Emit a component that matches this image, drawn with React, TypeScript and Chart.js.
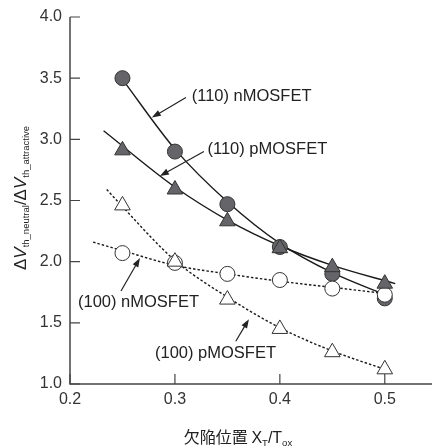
import { useEffect, useRef } from "react";
import { Chart, registerables } from "chart.js";

Chart.register(...registerables);

// ---- data ----
const xPositions = [0.25, 0.3, 0.35, 0.4, 0.45, 0.5];
const n110 = [3.5, 2.9, 2.47, 2.12, 1.9, 1.7];
const p110 = [2.91, 2.59, 2.33, 2.11, 1.955, 1.82];
const n100 = [2.07, 1.99, 1.9, 1.85, 1.78, 1.73];
const p100 = [2.46, 2.0, 1.69, 1.45, 1.26, 1.12];

const n110FitX = [0.25, 0.3, 0.35, 0.4, 0.45, 0.5];
const n110Fit = [3.49, 2.92, 2.49, 2.15, 1.91, 1.73];
const p110FitX = [0.232, 0.3, 0.35, 0.4, 0.45, 0.51];
const p110Fit = [3.07, 2.61, 2.34, 2.13, 1.97, 1.82];
const n100FitX = [0.222, 0.25, 0.3, 0.35, 0.4, 0.45, 0.5];
const n100Fit = [2.16, 2.09, 1.97, 1.9, 1.84, 1.79, 1.74];
const p100FitX = [0.235, 0.25, 0.3, 0.35, 0.4, 0.45, 0.5];
const p100Fit = [2.59, 2.45, 2.01, 1.71, 1.46, 1.27, 1.12];

const xTicks = [0.2, 0.3, 0.4, 0.5];
const yTicks = [1.0, 1.5, 2.0, 2.5, 3.0, 3.5, 4.0];

const labels = ["(110) nMOSFET", "(110) pMOSFET", "(100) nMOSFET", "(100) pMOSFET"];
// annotation anchors in data units: text left/middle, arrow tail, arrow head
const labelX = [0.316, 0.331, 0.2076, 0.281];
const labelY = [3.35, 2.916, 1.67, 1.25];
const tailX = [0.3105, 0.3276, 0.2486, 0.358];
const tailY = [3.342, 2.9, 1.76, 1.35];
const headX = [0.278, 0.2857, 0.2667, 0.3705];
const headY = [3.178, 2.7, 2.03, 1.53];

const FONT = "'Liberation Sans', Arial, Helvetica, sans-serif";
const CJK = "'Noto Sans CJK JP', 'Noto Sans CJK SC', sans-serif";

const pts = (xs: number[], ys: number[]) => xs.map((x, i) => ({ x, y: ys[i] }));

type Seg = { t: string; size: number; italic?: boolean; dy?: number; family?: string };

function drawRich(ctx: CanvasRenderingContext2D, segs: Seg[], cx: number, baseline: number) {
  const widths = segs.map((s) => {
    ctx.font = `${s.italic ? "italic " : ""}${s.size}px ${s.family || FONT}`;
    return ctx.measureText(s.t).width;
  });
  const total = widths.reduce((a, b) => a + b, 0);
  let x = cx - total / 2;
  segs.forEach((s, i) => {
    ctx.font = `${s.italic ? "italic " : ""}${s.size}px ${s.family || FONT}`;
    ctx.fillText(s.t, x, baseline + (s.dy || 0));
    x += widths[i];
  });
}

const decorPlugin = {
  id: "decor",
  beforeDatasetsDraw(chart: any) {
    const { ctx, scales, chartArea } = chart;
    const xs = scales.x;
    const ys = scales.y;
    ctx.save();
    ctx.setTransform(1, 0, 0, 1, 0, 0);
    ctx.strokeStyle = "#454446";
    ctx.lineWidth = 1.5;
    ctx.beginPath();
    ctx.moveTo(chartArea.left, ys.getPixelForValue(4.0));
    ctx.lineTo(chartArea.left, chartArea.bottom);
    ctx.lineTo(chartArea.right, chartArea.bottom);
    ctx.stroke();
    ctx.lineWidth = 1.2;
    ctx.beginPath();
    yTicks.forEach((v) => {
      const py = ys.getPixelForValue(v);
      ctx.moveTo(chartArea.left, py);
      ctx.lineTo(chartArea.left + 10, py);
    });
    xTicks.forEach((v) => {
      const px = xs.getPixelForValue(v);
      ctx.moveTo(px, chartArea.bottom);
      ctx.lineTo(px, chartArea.bottom - 10);
    });
    ctx.stroke();

    // tick labels
    ctx.fillStyle = "#333";
    ctx.font = `16px ${FONT}`;
    ctx.textAlign = "right";
    ctx.textBaseline = "middle";
    yTicks.forEach((v) => {
      ctx.fillText(v.toFixed(1), chartArea.left - 8, ys.getPixelForValue(v));
    });
    ctx.textAlign = "center";
    ctx.textBaseline = "top";
    xTicks.forEach((v) => {
      ctx.fillText(v.toFixed(1), xs.getPixelForValue(v), chartArea.bottom + 8);
    });
    ctx.restore();
  },
  afterDatasetsDraw(chart: any) {
    const { ctx, scales } = chart;
    const xs = scales.x;
    const ys = scales.y;
    ctx.save();
    ctx.setTransform(1, 0, 0, 1, 0, 0);
    ctx.fillStyle = "#222";
    ctx.strokeStyle = "#222";
    ctx.textBaseline = "middle";
    ctx.textAlign = "left";
    ctx.font = `16.5px ${FONT}`;
    labels.forEach((t, i) => {
      ctx.fillText(t, xs.getPixelForValue(labelX[i]), ys.getPixelForValue(labelY[i]));
      const x1 = xs.getPixelForValue(tailX[i]);
      const y1 = ys.getPixelForValue(tailY[i]);
      const x2 = xs.getPixelForValue(headX[i]);
      const y2 = ys.getPixelForValue(headY[i]);
      const ang = Math.atan2(y2 - y1, x2 - x1);
      const hl = 9;
      const hw = 3.2;
      ctx.lineWidth = 1.2;
      ctx.beginPath();
      ctx.moveTo(x1, y1);
      ctx.lineTo(x2 - Math.cos(ang) * hl * 0.8, y2 - Math.sin(ang) * hl * 0.8);
      ctx.stroke();
      ctx.beginPath();
      ctx.moveTo(x2, y2);
      ctx.lineTo(
        x2 - Math.cos(ang) * hl - Math.sin(ang) * hw,
        y2 - Math.sin(ang) * hl + Math.cos(ang) * hw
      );
      ctx.lineTo(
        x2 - Math.cos(ang) * hl + Math.sin(ang) * hw,
        y2 - Math.sin(ang) * hl - Math.cos(ang) * hw
      );
      ctx.closePath();
      ctx.fill();
    });

    // y title
    ctx.textAlign = "left";
    ctx.textBaseline = "alphabetic";
    ctx.save();
    ctx.translate(26, 198);
    ctx.rotate(-Math.PI / 2);
    drawRich(
      ctx,
      [
        { t: "Δ", size: 17 },
        { t: "V", size: 17, italic: true },
        { t: "th_neutral", size: 9.5, dy: 3 },
        { t: "/", size: 17 },
        { t: "Δ", size: 17 },
        { t: "V", size: 17, italic: true },
        { t: "th_attractive", size: 9.5, dy: 3 },
      ],
      0,
      0
    );
    ctx.restore();

    // x title
    drawRich(
      ctx,
      [
        { t: "欠陥位置 ", size: 16, family: CJK },
        { t: "X", size: 16 },
        { t: "T", size: 9.5, dy: 3 },
        { t: "/T", size: 16 },
        { t: "ox", size: 9.5, dy: 3 },
      ],
      238,
      443
    );
    ctx.restore();
  },
};

export default function App() {
  const ref = useRef<HTMLCanvasElement>(null);
  useEffect(() => {
    if (!ref.current) return;
    const filled = "#656468";
    const edge = "#333";
    const fitLine = (data: any, dashed: boolean) => ({
      type: "line" as const,
      data,
      showLine: true,
      borderColor: "#1a1a1a",
      borderWidth: 1.4,
      borderDash: dashed ? [2.5, 2] : [],
      pointRadius: 0,
      pointHoverRadius: 0,
      cubicInterpolationMode: "monotone" as const,
      fill: false,
      order: 10,
    });
    const marks = (data: any, style: string, fillC: string, r: number, order: number) => ({
      type: "scatter" as const,
      data,
      showLine: false,
      pointStyle: style,
      pointRadius: r,
      pointHoverRadius: r,
      pointBackgroundColor: fillC,
      pointBorderColor: edge,
      pointBorderWidth: 1,
      order,
    });
    const chart = new Chart(ref.current, {
      type: "scatter",
      data: {
        datasets: [
          fitLine(pts(n110FitX, n110Fit), false),
          fitLine(pts(p110FitX, p110Fit), false),
          fitLine(pts(n100FitX, n100Fit), true),
          fitLine(pts(p100FitX, p100Fit), true),
          marks(pts(xPositions, n110), "circle", filled, 7.5, 4),
          marks(pts(xPositions, n100), "circle", "#fff", 7.5, 3),
          marks(pts(xPositions, p100), "triangle", "#fff", 9, 2),
          marks(pts(xPositions, p110), "triangle", filled, 9, 1),
        ] as any,
      },
      options: {
        responsive: false,
        animation: false,
        devicePixelRatio: 1,
        events: [],
        layout: { autoPadding: false, padding: { top: 17, right: 1, left: 0, bottom: 0 } },
        plugins: { legend: { display: false }, tooltip: { enabled: false } },
        scales: {
          x: {
            type: "linear",
            min: 0.2,
            max: 0.545,
            grid: { display: false, drawTicks: false },
            border: { display: false },
            ticks: { display: false },
            afterFit: (s: any) => {
              s.height = 62;
              s.paddingLeft = 0;
              s.paddingRight = 0;
            },
          },
          y: {
            type: "linear",
            min: 1,
            max: 4,
            grid: { display: false, drawTicks: false },
            border: { display: false },
            ticks: { display: false },
            afterFit: (s: any) => {
              s.width = 70;
              s.paddingTop = 0;
              s.paddingBottom = 0;
            },
          },
        },
      },
      plugins: [decorPlugin],
    });
    return () => chart.destroy();
  }, []);
  return (
    <div style={{ position: "fixed", left: 0, top: 0, width: 433, height: 446, background: "#fff" }}>
      <canvas ref={ref} width={433} height={446} style={{ width: 433, height: 446, display: "block" }} />
    </div>
  );
}
